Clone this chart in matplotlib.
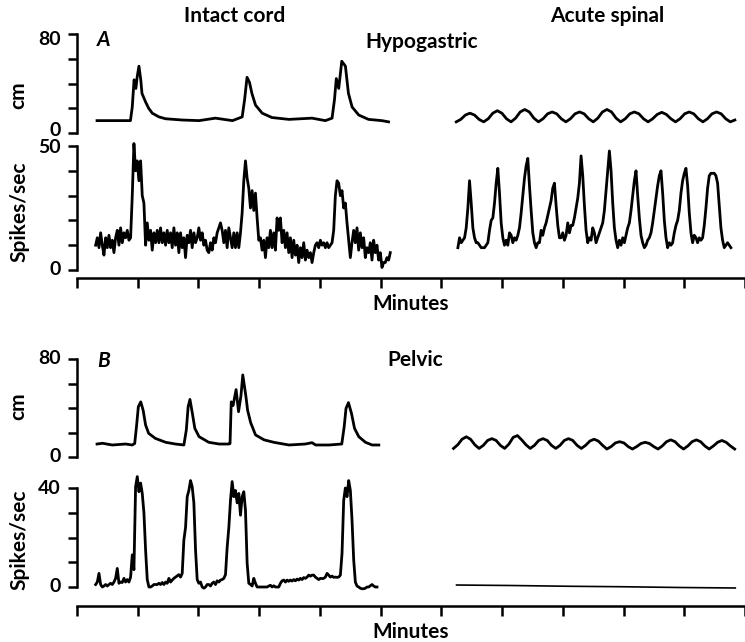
import numpy as np
import matplotlib.pyplot as plt

plt.rcParams['font.family'] = ['Lato', 'DejaVu Sans']
plt.rcParams['font.weight'] = 'bold'
plt.rcParams['axes.labelweight'] = 'bold'
plt.rcParams['font.size'] = 15

W, H = 745, 642

# ---- panel A (hypogastric) ----
# intact cord, bladder pressure (cm), (minutes, value)
a_intact_cm_t = [0.33, 0.88, 0.91, 0.94, 0.97, 0.99, 1.02, 1.05, 1.07, 1.13, 1.18, 1.24,
                 1.35, 1.46, 1.73, 2.01, 2.28, 2.56, 2.72, 2.76, 2.80, 2.84, 2.88, 2.94,
                 3.05, 3.21, 3.49, 3.87, 4.09, 4.20, 4.24, 4.27, 4.31, 4.36, 4.42, 4.47,
                 4.53, 4.64, 4.80, 5.02, 5.13]
a_intact_cm = [10, 10, 21, 43, 36, 45, 54, 43, 32, 25, 20, 16,
               13, 11.5, 10.5, 10, 12, 10, 13, 27, 45, 41, 32, 22.5,
               16, 12.5, 11, 12, 10, 12, 27, 44, 36, 58, 54, 32,
               21, 14.5, 11, 10, 9]
# intact cord, firing rate (spikes/sec), sampled evenly 0.307 -> 5.159 min
a_intact_rate_span = (0.307, 5.159)
a_intact_rate = [10, 13, 9, 15, 10, 6, 13, 9, 14, 9,
                 12, 7, 13, 16, 10, 17, 11, 15, 13, 16,
                 12, 13, 30, 51, 40, 44, 36, 44, 30, 27,
                 10, 19, 12, 16, 8, 15, 11, 16, 11, 17,
                 11, 15, 10, 16, 11, 15, 9, 17, 10, 15,
                 7, 15, 9, 13, 5, 14, 11, 16, 9, 15,
                 11, 13, 17, 12, 15, 10, 12, 8, 7, 11,
                 8, 13, 11, 15, 17, 19, 16, 11, 16, 9,
                 17, 13, 9, 15, 9, 15, 9, 15, 23, 36,
                 44, 37, 33, 25, 32, 24, 31, 21, 12, 13,
                 8, 12, 5, 13, 9, 16, 9, 15, 8, 21,
                 16, 21, 11, 16, 9, 15, 7, 13, 5, 12,
                 6, 10, 3, 9, 5, 11, 4, 8, 5, 7,
                 3, 7, 10, 11, 9, 12, 10, 11, 9, 11,
                 9, 10, 11, 16, 30, 36, 35, 30, 32, 25,
                 27, 19, 12, 5, 11, 16, 11, 17, 8, 15,
                 9, 13, 5, 9, 7, 11, 4, 12, 7, 10,
                 4, 7, 1, 3, 3, 5, 4, 7]
# acute spinal, pressure, sampled evenly 6.245 -> 10.833 min
a_acute_cm_span = (6.245, 10.833)
a_acute_cm = [9, 11, 14.5, 16, 14.5, 11,
              9, 11.5, 16, 18, 16, 11.5,
              9, 12, 17, 19, 17, 12,
              9, 11.5, 15.5, 17, 15.5, 11.5,
              9, 11.5, 15.5, 17, 15.5, 11.5,
              9, 12, 17, 19, 17, 12,
              9, 11.5, 15.5, 17, 15.5, 11.5,
              9, 11.5, 15, 16.7, 15, 11.5,
              9, 11.5, 15.5, 17, 15.5, 11.5,
              9, 11.5, 15.5, 17, 15.5, 11.5,
              9, 10.5]
# acute spinal, firing rate, sampled evenly 6.272 -> 10.768 min
a_acute_rate_span = (6.272, 10.768)
a_acute_rate = [9, 13, 11, 12, 13, 17, 25, 36, 27, 17,
                13, 11, 11, 10, 9, 9, 9, 10, 11, 16,
                20, 21, 27, 35, 41, 31, 19, 13, 10, 12,
                10, 15, 14, 11, 13, 12, 14, 17, 23, 30,
                37, 42, 45, 34, 24, 15, 11, 9, 11, 11,
                16, 14, 17, 19, 22, 25, 28, 33, 35, 26,
                18, 13, 13, 15, 12, 14, 19, 15, 18, 18,
                21, 25, 29, 35, 46, 38, 26, 16, 11, 13,
                12, 17, 15, 11, 13, 15, 17, 19, 24, 32,
                40, 48, 40, 27, 17, 12, 9, 12, 10, 13,
                11, 14, 17, 19, 24, 30, 36, 40, 30, 21,
                14, 11, 9, 10, 12, 13, 15, 19, 24, 29,
                34, 38, 40, 31, 20, 13, 9, 11, 10, 11,
                15, 18, 20, 24, 31, 36, 39, 41, 34, 23,
                15, 11, 14, 13, 11, 13, 12, 13, 18, 25,
                33, 38, 39, 39, 39, 38, 35, 26, 17, 12,
                9, 10, 11, 10, 9]

# ---- panel B (pelvic) ----
b_intact_cm_t = [0.33, 0.42, 0.58, 0.80, 0.91, 0.95, 0.98, 1.01, 1.05, 1.09, 1.13, 1.18,
                 1.29, 1.46, 1.62, 1.76, 1.80, 1.83, 1.86, 1.90, 1.94, 2.01, 2.17, 2.34,
                 2.50, 2.52, 2.54, 2.57, 2.62, 2.66, 2.70, 2.73, 2.78, 2.81, 2.86, 2.94,
                 3.08, 3.24, 3.49, 3.76, 3.87, 3.93, 4.15, 4.36, 4.40, 4.43,
                 4.47, 4.52, 4.57, 4.64, 4.75, 4.86, 4.97]
b_intact_cm = [10.6, 11.2, 9.8, 10.6, 9.8, 11, 25, 41, 45, 38, 26, 19.3,
               15.2, 12, 10.6, 9.8, 22, 41, 47, 35.6, 23.4, 16.6, 12, 10.6,
               10.6, 11, 45, 42, 55, 37, 50, 67, 50, 38, 28, 18,
               14, 12, 9.8, 10.6, 11.7, 9.8, 9.8, 10.6, 24.8, 39.7,
               44.4, 35.6, 23.4, 16.6, 12, 9.8, 9.8]
b_intact_rate_span = (0.307, 4.94)
b_intact_rate = [1, 2, 5.5, 1, 0, 0.4, 1, 0.4, 1, 1.5,
                 1, 2, 3.5, 7.5, 1.5, 2, 1.8, 3.5, 2, 3,
                 2, 4, 13, 7, 40.5, 44.6, 38.5, 42, 37.8, 30,
                 15, 3, 0, 0, 0.4, 1, 1, 1, 1.5, 1,
                 1.8, 1, 2, 1.5, 3.5, 2, 2.8, 3.5, 4, 4.5,
                 5, 4, 5.5, 19, 24, 36.5, 39, 43, 40.5, 34,
                 15, 3, 1.5, 2, 0, -0.5, 0, 1, 1, 0.4,
                 1.5, 2, 1, 2.5, 2, 2.8, 3, 3.5, 5, 16,
                 24, 35, 42.6, 36.5, 39, 34, 37.8, 29, 36.5, 38.5,
                 31, 9.6, 1.5, 1, 0.4, 3.5, 1.5, 0, 0, 0,
                 0, 0, 0, 0, 0.4, 0.7, 0, 0.5, 0, 0,
                 0, 1.5, 2.5, 2.8, 2, 2.8, 2.3, 2.8, 2.4, 3,
                 2.5, 3.2, 2.8, 3.5, 3, 3.8, 3.5, 4, 4.8, 4.4,
                 4.8, 4.8, 4, 3.5, 3, 3.5, 3.4, 3.5, 4, 5.5,
                 4.8, 4, 4.4, 3.9, 4, 3.9, 4, 4.8, 13.6, 35,
                 40, 36.5, 43, 39, 27, 11, 2, 0.4, 0, -0.5,
                 -0.7, -0.7, -0.5, 0, 0, 0.5, 1, 0.4, 0, 0]
b_acute_cm_span = (6.20, 10.83)
b_acute_cm = [7, 10, 14.5, 16.5, 14.5, 10,
              7, 9.5, 13.5, 15, 13.5, 9.5,
              7, 10.5, 16, 17.5, 14, 10,
              7, 9.5, 13.5, 15, 13.5, 9.5,
              7, 9.5, 13.5, 15, 13.5, 9.5,
              7, 9.5, 13, 14.5, 13, 9.5,
              6.5, 8.5, 11.5, 12.5, 11.5, 8.5,
              6.5, 8.5, 11, 12, 11, 8.5,
              6.5, 9, 12.5, 14, 12.5, 9,
              6.5, 9, 12.5, 14, 12.5, 9,
              6.5, 9, 12, 13.5, 12, 9,
              6.5]
b_acute_rate_span = (6.25, 10.84)
b_acute_rate = [0.8, 0.6, 0.3, 0.1, -0.2, -0.4]

T_MAX = 11.0
fig = plt.figure(figsize=(W / 100, H / 100), dpi=100)


def box(x0, y0, x1, y1):
    # pixel box (top-left origin) -> figure fraction rect
    return [x0 / W, 1 - y1 / H, (x1 - x0) / W, (y1 - y0) / H]


def trace_axes(rect, ymax, ticks, x_offset=None, nudge=(0, 0)):
    ax = fig.add_axes(rect)
    ax.set_xlim(0, T_MAX)
    ax.set_ylim(0, ymax)
    ax.patch.set_visible(False)
    for s in ['top', 'right']:
        ax.spines[s].set_visible(False)
    ax.spines['left'].set_linewidth(1.8)
    ax.set_yticks(ticks, [])
    ax.tick_params(axis='y', direction='out', length=6.5, width=1.8)
    # only the end ticks carry a value, as in the original
    for val, dy in zip([ticks[0], ticks[-1]], nudge):
        ax.annotate(str(val), xy=(0, val), xycoords=ax.get_yaxis_transform(),
                    xytext=(-11.5, dy), textcoords='offset points',
                    ha='right', va='center', fontsize=14, fontweight='bold')
    if x_offset is None:
        ax.spines['bottom'].set_visible(False)
        ax.set_xticks([])
    else:
        ax.spines['bottom'].set_position(('outward', x_offset))
        ax.spines['bottom'].set_linewidth(1.8)
        ax.set_xticks(np.arange(0, 12), [])
        ax.tick_params(axis='x', direction='out', length=7.5, width=1.8)
        ax.set_xlabel('Minutes', labelpad=0, fontweight='bold')
    return ax


def even(span, vals):
    return np.linspace(span[0], span[1], len(vals))


kw = dict(color='black', lw=2.0, clip_on=False, solid_joinstyle='round')

ax = trace_axes(box(77, 34, 745, 133), 80, [0, 20, 40, 60, 80], nudge=(1.5, -4))
ax.plot(a_intact_cm_t, a_intact_cm, **kw)
ax.plot(even(a_acute_cm_span, a_acute_cm), a_acute_cm, **kw)

ax = trace_axes(box(77, 146, 745, 270), 50, [0, 10, 20, 30, 40, 50], x_offset=6, nudge=(0, -1))
ax.plot(even(a_intact_rate_span, a_intact_rate), a_intact_rate, **kw)
ax.plot(even(a_acute_rate_span, a_acute_rate), a_acute_rate, **kw)

ax = trace_axes(box(77, 359, 745, 457), 80, [0, 20, 40, 60, 80])
ax.plot(b_intact_cm_t, b_intact_cm, **kw)
ax.plot(even(b_acute_cm_span, b_acute_cm), b_acute_cm, **kw)

ax = trace_axes(box(77, 488, 745, 587), 40, [0, 10, 20, 30, 40], x_offset=14)
ax.plot(even(b_intact_rate_span, b_intact_rate), b_intact_rate, **kw)
ax.plot(even(b_acute_rate_span, b_acute_rate), b_acute_rate, lw=1.2, color='black', clip_on=False)


def label(x, y, s, **k):
    fig.text(x / W, 1 - y / H, s, va='center', fontweight='bold', **k)


label(235, 16, 'Intact cord', ha='center')
label(607, 16, 'Acute spinal', ha='center')
label(97, 40, 'A', ha='left', style='italic')
label(422, 42, 'Hypogastric', ha='center')
label(97, 361, 'B', ha='left', style='italic')
label(415, 360, 'Pelvic', ha='center')
label(18, 95, 'cm', ha='center', rotation=90)
label(19, 212, 'Spikes/sec', ha='center', rotation=90)
label(18, 406, 'cm', ha='center', rotation=90)
label(19, 540, 'Spikes/sec', ha='center', rotation=90)

fig.savefig('out.png', dpi=100)
